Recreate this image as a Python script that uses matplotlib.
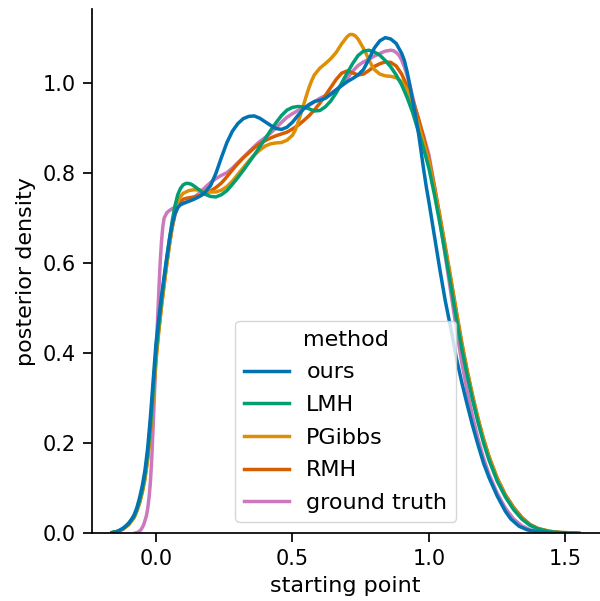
import matplotlib
matplotlib.use("Agg")
import matplotlib.pyplot as plt

methods = ["ours", "LMH", "PGibbs", "RMH", "ground truth"]
colors = ["#0173b2", "#029e73", "#de8f05", "#d55e00", "#cc78bc"]

ours_x = [-0.16, -0.15, -0.14, -0.13, -0.12, -0.11, -0.10, -0.09, -0.08, -0.07, -0.06, -0.05,
          -0.04, -0.03, -0.02, -0.01, 0.0, 0.01, 0.02, 0.03, 0.04, 0.05, 0.06, 0.07, 0.08, 0.09,
          0.10, 0.12, 0.14, 0.16, 0.18, 0.20, 0.22, 0.24, 0.26, 0.28, 0.30, 0.32, 0.34, 0.36,
          0.38, 0.40, 0.42, 0.44, 0.46, 0.48, 0.50, 0.52, 0.54, 0.56, 0.58, 0.60, 0.62, 0.64,
          0.66, 0.68, 0.70, 0.72, 0.74, 0.76, 0.78, 0.80, 0.82, 0.84, 0.86, 0.88, 0.90, 0.91,
          0.92, 0.93, 0.94, 0.95, 0.96, 0.97, 0.98, 0.99, 1.00, 1.02, 1.04, 1.06, 1.08, 1.10,
          1.12, 1.14, 1.16, 1.18, 1.20, 1.22, 1.25, 1.28, 1.30, 1.33, 1.36, 1.40, 1.45, 1.50]
ours_y = [0.001, 0.002, 0.004, 0.007, 0.011, 0.016, 0.022, 0.030, 0.040, 0.056, 0.078, 0.105,
          0.14, 0.19, 0.26, 0.34, 0.42, 0.475, 0.525, 0.57, 0.615, 0.655, 0.688, 0.71, 0.723, 0.73,
          0.733, 0.737, 0.742, 0.748, 0.757, 0.772, 0.800, 0.835, 0.868, 0.893, 0.910, 0.921, 0.926, 0.927,
          0.922, 0.914, 0.906, 0.899, 0.897, 0.902, 0.913, 0.928, 0.942, 0.952, 0.959, 0.962, 0.966, 0.975,
          0.985, 0.994, 1.003, 1.010, 1.018, 1.030, 1.053, 1.078, 1.094, 1.101, 1.098, 1.088, 1.066, 1.05,
          1.025, 0.995, 0.962, 0.93, 0.895, 0.853, 0.81, 0.77, 0.735, 0.66, 0.585, 0.515, 0.455, 0.39,
          0.335, 0.285, 0.238, 0.195, 0.155, 0.123, 0.082, 0.048, 0.031, 0.015, 0.007, 0.002, 0.0, 0.0]

lmh_x = [-0.16, -0.14, -0.12, -0.10, -0.08, -0.07, -0.06, -0.05, -0.04, -0.03, -0.02, -0.01,
         0.0, 0.01, 0.02, 0.03, 0.04, 0.05, 0.06, 0.07, 0.08, 0.09, 0.10, 0.11, 0.12, 0.13,
         0.14, 0.16, 0.18, 0.20, 0.22, 0.24, 0.26, 0.28, 0.30, 0.32, 0.34, 0.36, 0.38, 0.40,
         0.42, 0.44, 0.46, 0.48, 0.50, 0.52, 0.54, 0.56, 0.58, 0.60, 0.62, 0.64, 0.66, 0.68,
         0.70, 0.72, 0.74, 0.76, 0.78, 0.80, 0.82, 0.84, 0.86, 0.88, 0.90, 0.92, 0.94, 0.96,
         0.98, 1.00, 1.02, 1.04, 1.06, 1.08, 1.10, 1.12, 1.14, 1.16, 1.18, 1.20, 1.22, 1.25,
         1.28, 1.31, 1.34, 1.37, 1.40, 1.44, 1.48, 1.54]
lmh_y = [0.001, 0.004, 0.010, 0.020, 0.037, 0.052, 0.072, 0.097, 0.13, 0.178, 0.24, 0.32,
         0.40, 0.46, 0.515, 0.565, 0.61, 0.655, 0.695, 0.728, 0.752, 0.766, 0.774, 0.777, 0.777, 0.775,
         0.771, 0.762, 0.753, 0.748, 0.747, 0.752, 0.761, 0.775, 0.79, 0.806, 0.823, 0.84, 0.858, 0.876,
         0.895, 0.912, 0.928, 0.94, 0.946, 0.948, 0.947, 0.943, 0.938, 0.939, 0.947, 0.96, 0.978, 1.0,
         1.022, 1.043, 1.061, 1.071, 1.073, 1.069, 1.062, 1.05, 1.036, 1.018, 0.996, 0.968, 0.935, 0.895,
         0.855, 0.81, 0.752, 0.688, 0.62, 0.55, 0.478, 0.41, 0.35, 0.295, 0.245, 0.2, 0.162, 0.115,
         0.08, 0.052, 0.031, 0.017, 0.009, 0.003, 0.001, 0.0]

pgibbs_x = [-0.16, -0.14, -0.12, -0.10, -0.08, -0.07, -0.06, -0.05, -0.04, -0.03, -0.02, -0.01,
            0.0, 0.01, 0.02, 0.03, 0.04, 0.05, 0.06, 0.07, 0.08, 0.09, 0.10, 0.12, 0.14, 0.16,
            0.18, 0.20, 0.22, 0.24, 0.26, 0.28, 0.30, 0.32, 0.34, 0.36, 0.38, 0.40, 0.42, 0.44,
            0.46, 0.48, 0.50, 0.51, 0.52, 0.53, 0.54, 0.55, 0.56, 0.57, 0.58, 0.60, 0.62, 0.64,
            0.66, 0.68, 0.70, 0.71, 0.72, 0.73, 0.74, 0.75, 0.76, 0.77, 0.78, 0.79, 0.80, 0.82,
            0.84, 0.86, 0.88, 0.90, 0.92, 0.94, 0.96, 0.98, 1.00, 1.02, 1.04, 1.06, 1.08, 1.10,
            1.12, 1.14, 1.16, 1.18, 1.20, 1.22, 1.25, 1.28, 1.31, 1.34, 1.37, 1.40, 1.44, 1.48, 1.55]
pgibbs_y = [0.001, 0.003, 0.009, 0.018, 0.034, 0.048, 0.066, 0.09, 0.12, 0.165, 0.225, 0.30,
            0.38, 0.445, 0.50, 0.55, 0.60, 0.643, 0.683, 0.713, 0.735, 0.748, 0.755, 0.761, 0.763, 0.762,
            0.76, 0.758, 0.758, 0.762, 0.77, 0.782, 0.797, 0.812, 0.827, 0.84, 0.851, 0.86, 0.865, 0.867,
            0.868, 0.873, 0.884, 0.895, 0.912, 0.93, 0.95, 0.97, 0.989, 1.005, 1.018, 1.033, 1.043, 1.054,
            1.068, 1.087, 1.103, 1.108, 1.108, 1.105, 1.098, 1.088, 1.077, 1.065, 1.052, 1.04, 1.03, 1.02,
            1.016, 1.015, 1.012, 1.003, 0.985, 0.955, 0.91, 0.868, 0.825, 0.765, 0.70, 0.632, 0.562, 0.49,
            0.42, 0.358, 0.302, 0.252, 0.207, 0.168, 0.12, 0.083, 0.055, 0.033, 0.018, 0.009, 0.004, 0.001, 0.0]

rmh_x = [-0.16, -0.14, -0.12, -0.10, -0.08, -0.07, -0.06, -0.05, -0.04, -0.03, -0.02, -0.01,
         0.0, 0.01, 0.02, 0.03, 0.04, 0.05, 0.06, 0.07, 0.08, 0.09, 0.10, 0.12, 0.14, 0.16,
         0.18, 0.20, 0.22, 0.24, 0.26, 0.28, 0.30, 0.32, 0.34, 0.36, 0.38, 0.40, 0.42, 0.44,
         0.46, 0.48, 0.50, 0.52, 0.54, 0.56, 0.58, 0.60, 0.62, 0.64, 0.66, 0.68, 0.70, 0.72,
         0.74, 0.76, 0.78, 0.80, 0.82, 0.84, 0.86, 0.88, 0.90, 0.92, 0.94, 0.96, 0.98, 1.00,
         1.02, 1.04, 1.06, 1.08, 1.10, 1.12, 1.14, 1.16, 1.18, 1.20, 1.22, 1.25, 1.28, 1.31,
         1.34, 1.37, 1.40, 1.44, 1.48, 1.55]
rmh_y = [0.001, 0.003, 0.009, 0.019, 0.035, 0.05, 0.068, 0.093, 0.125, 0.17, 0.23, 0.31,
         0.39, 0.45, 0.505, 0.555, 0.60, 0.643, 0.68, 0.708, 0.727, 0.737, 0.742, 0.745, 0.747, 0.75,
         0.754, 0.76, 0.768, 0.778, 0.792, 0.807, 0.821, 0.834, 0.845, 0.856, 0.865, 0.872, 0.878, 0.883,
         0.887, 0.891, 0.898, 0.906, 0.916, 0.927, 0.94, 0.955, 0.972, 0.99, 1.008, 1.022, 1.027, 1.023,
         1.018, 1.02, 1.028, 1.037, 1.043, 1.047, 1.046, 1.038, 1.02, 0.993, 0.963, 0.925, 0.88, 0.83,
         0.77, 0.705, 0.636, 0.566, 0.494, 0.424, 0.361, 0.305, 0.254, 0.209, 0.17, 0.122, 0.085, 0.057,
         0.035, 0.019, 0.01, 0.004, 0.001, 0.0]

truth_x = [-0.075, -0.065, -0.055, -0.045, -0.035, -0.03, -0.025, -0.02, -0.015, -0.01, -0.005,
           0.0, 0.005, 0.01, 0.015, 0.02, 0.025, 0.03, 0.04, 0.05, 0.06, 0.08, 0.10, 0.12, 0.14,
           0.16, 0.18, 0.20, 0.22, 0.24, 0.26, 0.28, 0.30, 0.32, 0.34, 0.36, 0.38, 0.40, 0.42,
           0.44, 0.46, 0.48, 0.50, 0.52, 0.54, 0.56, 0.58, 0.60, 0.62, 0.64, 0.66, 0.68, 0.70,
           0.72, 0.74, 0.76, 0.78, 0.80, 0.82, 0.84, 0.86, 0.87, 0.88, 0.89, 0.90, 0.91, 0.92,
           0.93, 0.94, 0.96, 0.98, 1.00, 1.02, 1.04, 1.06, 1.08, 1.10, 1.12, 1.14, 1.16, 1.18,
           1.20, 1.22, 1.25, 1.28, 1.31, 1.34, 1.37, 1.40, 1.45]
truth_y = [0.0, 0.002, 0.007, 0.018, 0.038, 0.055, 0.08, 0.115, 0.17, 0.24, 0.315,
           0.39, 0.46, 0.53, 0.595, 0.645, 0.68, 0.70, 0.712, 0.717, 0.721, 0.727, 0.732, 0.738, 0.746,
           0.756, 0.768, 0.779, 0.788, 0.795, 0.801, 0.811, 0.823, 0.835, 0.847, 0.859, 0.87, 0.879, 0.889,
           0.901, 0.913, 0.924, 0.932, 0.939, 0.945, 0.95, 0.958, 0.966, 0.972, 0.977, 0.985, 0.996, 1.01,
           1.026, 1.039, 1.047, 1.053, 1.06, 1.066, 1.071, 1.073, 1.072, 1.068, 1.062, 1.051, 1.036, 1.017,
           0.995, 0.97, 0.92, 0.883, 0.84, 0.77, 0.695, 0.615, 0.535, 0.455, 0.38, 0.315, 0.258, 0.208,
           0.166, 0.13, 0.088, 0.055, 0.031, 0.016, 0.007, 0.003, 0.0]

xs = [ours_x, lmh_x, pgibbs_x, rmh_x, truth_x]
ys = [ours_y, lmh_y, pgibbs_y, rmh_y, truth_y]

W, H = 600, 601
fig = plt.figure(figsize=(W / 100, H / 100), dpi=100)
ax = fig.add_axes([91.5 / W, (H - 533) / H, (W - 91.5) / W, (533 - 9.3) / H])

lines = {}
# draw in reverse so "ours" ends on top
for name, c, x, y in reversed(list(zip(methods, colors, xs, ys))):
    ln, = ax.plot(x, y, color=c, lw=2.5, label=name, solid_joinstyle="round")
    lines[name] = ln

ax.set_xlim(-0.236, (W - 156) / 273)
ax.set_ylim(0, 1.164)
ax.set_xticks([0.0, 0.5, 1.0, 1.5])
ax.set_yticks([0.0, 0.2, 0.4, 0.6, 0.8, 1.0])
ax.set_xticklabels(["0.0", "0.5", "1.0", "1.5"])
ax.set_yticklabels(["0.0", "0.2", "0.4", "0.6", "0.8", "1.0"])
ax.tick_params(labelsize=15, length=6.2, width=1.25, pad=5)
for s in ["top", "right"]:
    ax.spines[s].set_visible(False)
for s in ["left", "bottom"]:
    ax.spines[s].set_linewidth(1.25)
ax.set_xlabel("starting point", fontsize=16, labelpad=5)
ax.set_ylabel("posterior density", fontsize=16, labelpad=5)

leg = ax.legend([lines[m] for m in methods], methods, title="method", loc="lower center",
                fontsize=16, title_fontsize=16, labelspacing=0.57)

fig.savefig("out.png", dpi=100)
